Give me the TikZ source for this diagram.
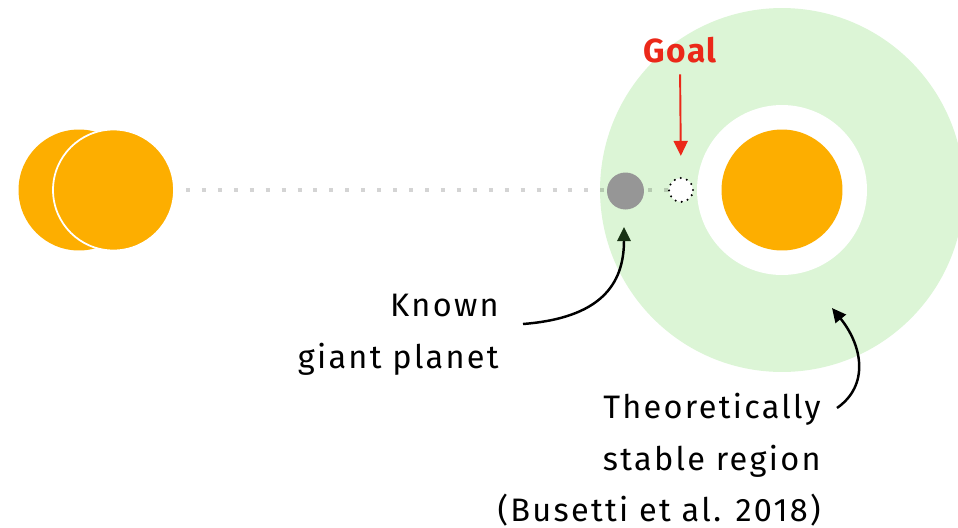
\documentclass[tikz,border=0pt]{standalone}
\usepackage{fontspec}
\setmainfont{Fira Sans}
\newfontfamily\labelfont{Fira Sans}[LetterSpace=7]
\newfontfamily\goalfont{Fira Sans}[LetterSpace=5]
\usetikzlibrary{arrows.meta, positioning}
\definecolor{StarOrange}{RGB}{253,174,0}
\definecolor{ZoneGreen}{RGB}{220,245,214}
\definecolor{PlanetGray}{RGB}{150,150,150}
\definecolor{GoalRed}{RGB}{235,40,25}
\definecolor{TipGreen}{RGB}{24,50,20}

\begin{document}
\begin{tikzpicture}[x=0.02cm, y=-0.02cm,
    body/.style={circle, inner sep=0pt, minimum size=#1},
    star/.style={body=2.42cm, fill=StarOrange},
    lbl/.style={font=\labelfont\fontsize{18.5}{29.5}\selectfont, align=right, inner sep=0pt},
    arr/.style={-{Triangle[length=8pt, width=7.5pt]}, line width=1.4pt}
  ]
  \useasboundingbox (0,0) rectangle (958,528);
  \clip (0,0) rectangle (958,528);

  % binary star on the left
  \node[star] (starA) at (79,190) {};
  \node[star, draw=white, line width=1pt] (starB) at (113.5,190) {};

  % stable zone round the single star
  \node[body=7.28cm, fill=ZoneGreen] (zone) at (782,190) {};
  \node[body=3.4cm, fill=white] (gap) at (782,190) {};
  \node[star] (sun) at (782,190) {};

  % orbit line
  \coordinate (orbitA) at (186,190);
  \coordinate (orbitB) at (669,190);
  \draw[black, opacity=0.17, line width=2.27pt, dash pattern=on 2.27pt off 6.8pt] (orbitA) -- (orbitB);

  \node[body=0.74cm, fill=PlanetGray] (planet) at (625.5,191) {};
  \node[body=0.48cm, fill=white, draw=black, line width=1.3pt, line cap=round,
        dash pattern=on 0pt off 3.6pt] (goal) at (681,190) {};

  % labels
  \node[font=\goalfont\fontsize{19}{22}\selectfont\bfseries, text=GoalRed, inner sep=0pt] (goallbl) at (680,50) {Goal};
  \draw[-{Triangle[length=8.5pt, width=8pt]}, GoalRed, line width=1.1pt, shorten <=0.22cm, shorten >=0.42cm]
    (goallbl.south) -- (goal.north);

  \node[lbl, anchor=north east] (giantlbl) at (499,293.5) {Known\\giant planet};
  \coordinate (giantstart) at (523,324);
  \coordinate (giantend) at (624,227);
  \draw[arr, -{Triangle[length=8pt, width=7.5pt, color=TipGreen]}]
    (giantstart) .. controls (600,318) and (624,285) .. (giantend);

  \node[lbl, anchor=north east] (zonelbl) at (821,392.5) {Theoretically\\stable region\\(Busetti et al. 2018)};
  \coordinate (zonestart) at (837,408);
  \coordinate (zoneend) at (832,308);
  \draw[arr] (zonestart) .. controls (870,385) and (862,345) .. (zoneend);
\end{tikzpicture}
\end{document}
